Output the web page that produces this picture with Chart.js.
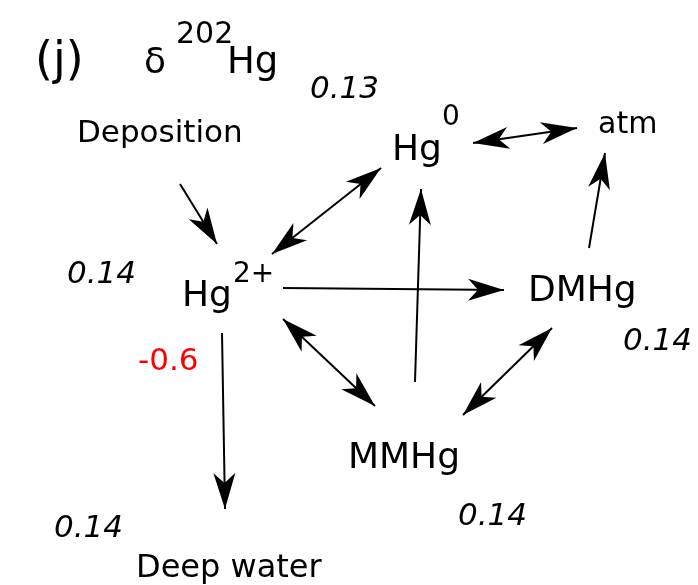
<!DOCTYPE html>
<html>
<head>
<meta charset="utf-8">
<script src="https://cdn.jsdelivr.net/npm/chart.js@4/dist/chart.umd.min.js"></script>
<style>
html,body{margin:0;padding:0;background:#fff;}
#wrap{width:698px;height:585px;position:relative;}
</style>
</head>
<body>
<div id="wrap"><canvas id="c" width="698" height="585"></canvas></div>
<script>
// ---- data (diagram coordinates in data units) ----
const nodeNames = ['Deposition', 'Hg', 'atm', 'Hg', 'DMHg', 'MMHg', 'Deep water'];
const nodeSup   = ['', '0', '', '2+', '', '', ''];
const nodeX     = [77, 392, 598, 182, 528, 348, 136];
const nodeY     = [142, 160, 133, 306, 301, 468, 577];
const supX      = [0, 442, 0, 233, 0, 0, 0];
const supY      = [0, 125, 0, 282, 0, 0, 0];

const deltaLabels = ['0.13', '0.14', '0.14', '0.14', '0.14'];
const deltaX      = [310, 67, 623, 54, 458];
const deltaY      = [98, 283, 350, 537, 525];

const fractionation = ['-0.6'];
const fractionX = [138];
const fractionY = [370];

// arrows: from (x0,y0) to (x1,y1); both = double-headed
const arrowX0 = [180, 381, 473, 589, 415, 283, 283, 552, 222];
const arrowY0 = [184, 168, 143, 248, 382, 288, 319, 328, 333];
const arrowX1 = [217, 272, 577, 605, 421, 504, 375, 463, 225];
const arrowY1 = [244, 254, 128, 153, 189, 290, 406, 415, 509];
const arrowBoth = [false, true, true, false, false, false, true, true, false];

const panelTitle = ['(j)', 'δ', '202', 'Hg'];

// ---- drawing ----
const FONT = '"DejaVu Sans", sans-serif';

const diagramPlugin = {
  id: 'diagram',
  afterDatasetsDraw(chart) {
    const ctx = chart.ctx;
    const xs = chart.scales.x, ys = chart.scales.y;
    const px = v => xs.getPixelForValue(v);
    const py = v => ys.getPixelForValue(v);
    ctx.save();
    ctx.textBaseline = 'alphabetic';
    ctx.textAlign = 'left';
    ctx.fillStyle = '#000';

    // title
    ctx.font = '46px ' + FONT; ctx.fillText(panelTitle[0], px(35), py(74));
    ctx.font = '36px ' + FONT; ctx.fillText(panelTitle[1], px(144), py(73));
    ctx.font = '30px ' + FONT; ctx.fillText(panelTitle[2], px(176), py(43));
    ctx.font = '37px ' + FONT; ctx.fillText(panelTitle[3], px(227), py(73));

    // nodes
    const nodeSize = [31, 36, 30, 36, 36, 36, 32];
    nodeNames.forEach((n, i) => {
      ctx.font = nodeSize[i] + 'px ' + FONT;
      ctx.fillText(n, px(nodeX[i]), py(nodeY[i]));
      if (nodeSup[i]) {
        ctx.font = '28px ' + FONT;
        ctx.fillText(nodeSup[i], px(supX[i]), py(supY[i]));
      }
    });

    // delta values
    ctx.font = 'italic 31px ' + FONT;
    deltaLabels.forEach((t, i) => ctx.fillText(t, px(deltaX[i]), py(deltaY[i])));

    // fractionation
    ctx.font = '31px ' + FONT;
    ctx.fillStyle = '#ff0000';
    fractionation.forEach((t, i) => ctx.fillText(t, px(fractionX[i]), py(fractionY[i])));

    // arrows
    ctx.strokeStyle = '#000';
    ctx.fillStyle = '#000';
    ctx.lineWidth = 2;
    const head = (tx, ty, fx, fy) => {
      const a = Math.atan2(ty - fy, tx - fx);
      const L = 36, W = 11, N = 26;
      const c = Math.cos(a), s = Math.sin(a);
      ctx.beginPath();
      ctx.moveTo(tx, ty);
      ctx.lineTo(tx - L * c + W * s, ty - L * s - W * c);
      ctx.lineTo(tx - N * c, ty - N * s);
      ctx.lineTo(tx - L * c - W * s, ty - L * s + W * c);
      ctx.closePath();
      ctx.fill();
    };
    arrowX0.forEach((_, i) => {
      const x0 = px(arrowX0[i]), y0 = py(arrowY0[i]);
      const x1 = px(arrowX1[i]), y1 = py(arrowY1[i]);
      ctx.beginPath();
      ctx.moveTo(x0, y0);
      ctx.lineTo(x1, y1);
      ctx.stroke();
      head(x1, y1, x0, y0);
      if (arrowBoth[i]) head(x0, y0, x1, y1);
    });
    ctx.restore();
  }
};

new Chart(document.getElementById('c'), {
  type: 'scatter',
  data: {
    datasets: [{
      data: nodeX.map((x, i) => ({ x, y: nodeY[i] })),
      pointRadius: 0,
      showLine: false
    }]
  },
  options: {
    responsive: false,
    animation: false,
    layout: { padding: 0 },
    plugins: { legend: { display: false }, tooltip: { enabled: false } },
    scales: {
      x: { type: 'linear', min: 0, max: 698, display: false },
      y: { type: 'linear', min: 0, max: 585, reverse: true, display: false }
    }
  },
  plugins: [diagramPlugin]
});
</script>
</body>
</html>
